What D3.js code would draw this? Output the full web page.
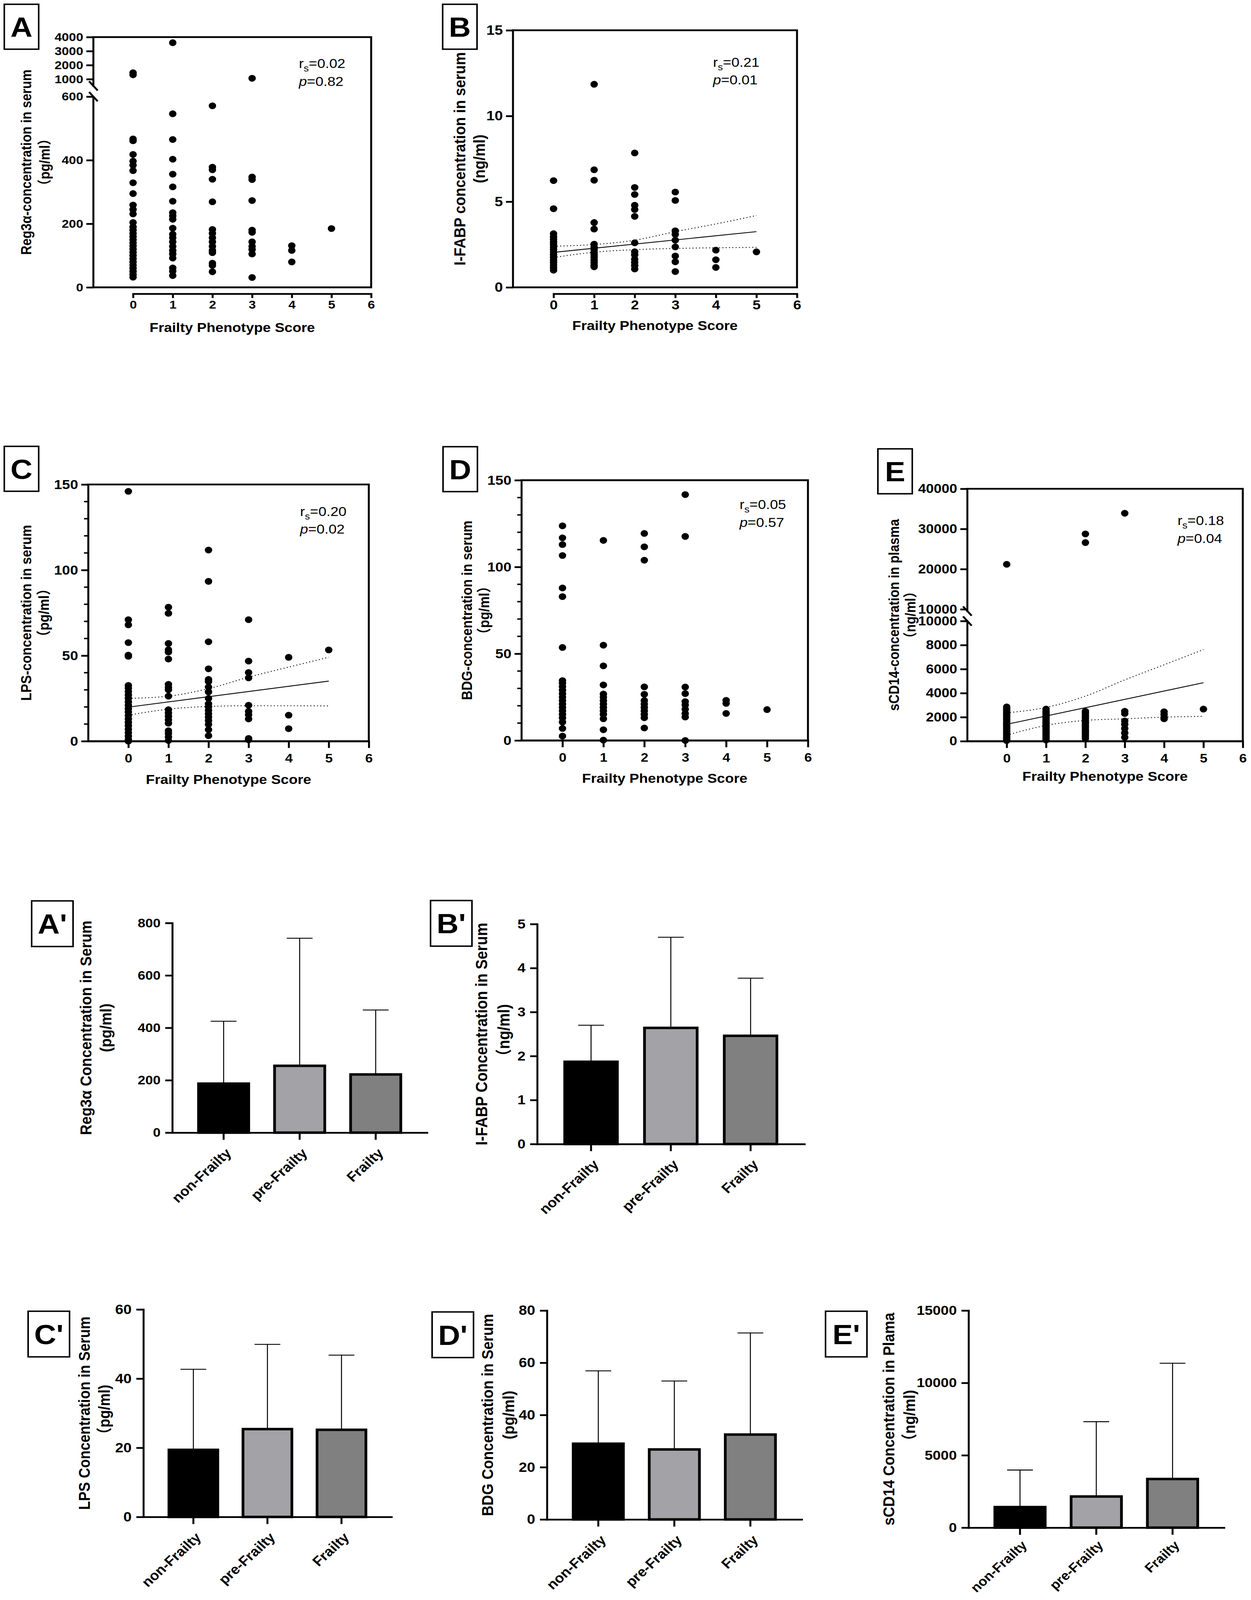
<!DOCTYPE html>
<html>
<head>
<meta charset="utf-8">
<script src="https://cdnjs.cloudflare.com/ajax/libs/d3/7.8.5/d3.min.js"></script>
<style>
  html, body { margin: 0; padding: 0; background: #fff; overflow: hidden; }
  svg { display: block; }
  text { font-family: "Liberation Sans", Arial, "Noto Sans CJK SC", sans-serif; }
</style>
</head>
<body>
<div id="figure"></div>
<script>
// values, one inner array per frailty phenotype score (0..5)
var scores = [0, 1, 2, 3, 4, 5];
var xTicks = [0, 1, 2, 3, 4, 5, 6];

var reg3aByScore = [
  [1460, 1310, 467, 461, 418, 397, 384, 367, 329, 295, 259, 245, 231, 204, 190, 180, 170, 160, 150, 140, 130, 120, 110, 100, 90, 80, 70, 60, 50, 40, 32],
  [3600, 546, 465, 403, 356, 316, 271, 235, 225, 214, 186, 167, 156, 143, 129, 116, 105, 92, 61, 51, 37],
  [571, 378, 370, 340, 269, 182, 170, 156, 143, 129, 116, 109, 76, 69, 49],
  [1060, 347, 339, 273, 180, 173, 143, 129, 119, 105, 31],
  [131, 116, 80],
  [185]
];
var ifabpByScore = [
  [6.23, 4.59, 3.13, 2.95, 2.8, 2.65, 2.5, 2.35, 2.2, 2.05, 1.9, 1.75, 1.6, 1.45, 1.3, 1.15, 1.0],
  [11.85, 6.86, 6.25, 3.78, 3.40, 2.52, 2.35, 2.2, 2.05, 1.9, 1.75, 1.6, 1.45, 1.3, 1.2],
  [7.84, 5.83, 5.42, 4.79, 4.54, 4.14, 2.60, 2.08, 1.9, 1.64, 1.45, 1.27, 1.07],
  [5.56, 5.07, 3.30, 3.09, 2.75, 2.36, 1.83, 1.49, 0.92],
  [2.17, 1.61, 1.16],
  [2.07]
];
var lpsByScore = [
  [146, 71, 68, 57.6, 50.3, 49.6, 32.6, 31, 29, 27, 25, 23, 21, 19, 17, 15, 13, 11, 9, 7, 5, 3, 1, 0],
  [78.3, 74.7, 57.1, 53.4, 52.1, 48, 33.2, 31.5, 30, 26.3, 18.4, 16.5, 14.5, 12.5, 10.5, 6.1, 4.5, 2.5, 0.4],
  [111.7, 93.4, 58.1, 42.3, 36.1, 34.8, 31.6, 28.8, 25, 21.8, 20, 18, 16, 14, 12, 9.8, 6.7, 3.2],
  [71, 46.8, 40.1, 37, 21, 17.4, 15.5, 13, 1.6, 0.8],
  [49, 15.2, 7.3],
  [53.3]
];
var bdgByScore = [
  [123.7, 116.8, 112.9, 106.6, 87.9, 82.9, 53.6, 34.5, 33, 31, 29, 27, 25, 23, 21, 19, 17, 15, 13, 10.6, 6.9, 2.5],
  [115.3, 54.9, 43, 32, 26.8, 25, 23, 21, 19, 17, 15, 12.5, 6.2, 0.2],
  [119.3, 111.6, 103.9, 30.9, 26.6, 23, 21, 19, 17, 15, 13.1, 7.2],
  [141.7, 117.6, 30.8, 27, 22.4, 20.5, 18, 15.5, 13.5, 0],
  [23.1, 21.4, 15.6],
  [17.8]
];
var scd14ByScore = [
  [21200, 2850, 2700, 2550, 2400, 2250, 2100, 1950, 1800, 1650, 1500, 1350, 1200, 1050, 900, 750, 600, 450, 300, 150, 50],
  [2670, 2500, 2350, 2200, 2050, 1900, 1750, 1600, 1450, 1300, 1150, 1000, 850, 700, 550, 400, 250, 100],
  [28760, 26600, 2490, 2350, 2200, 2050, 1900, 1750, 1600, 1450, 1300, 1150, 1000, 850, 700, 550, 400, 230],
  [33900, 2490, 2300, 1680, 1400, 1050, 690, 320],
  [2450, 2220, 1980, 1860],
  [2670]
];

// regression line (value at score 0 and 5) and 95% band read at scores 0..5
var ifabpFit = [2.04, 3.25];
var ifabpUpper = [2.40, 2.50, 2.75, 3.25, 3.70, 4.19];
var ifabpLower = [1.74, 2.05, 2.20, 2.27, 2.31, 2.33];
var lpsFit = [19.9, 35.1];
var lpsUpper = [25, 26.3, 30.7, 37.4, 43.3, 49];
var lpsLower = [15.2, 18.7, 20.3, 20.7, 20.7, 20.6];
var scd14Fit = [1405, 4865];
var scd14Upper = [2360, 2810, 3750, 5100, 6360, 7620];
var scd14Lower = [500, 1310, 1730, 1860, 2000, 2070];

// bar charts: mean and SD per group
var groups = ["non-Frailty", "pre-Frailty", "Frailty"];
var reg3aMean = [187, 255, 222];
var reg3aSD = [238, 487, 246];
var ifabpMean = [1.87, 2.64, 2.46];
var ifabpSD = [0.83, 2.06, 1.31];
var lpsMean = [19.4, 25.4, 25.2];
var lpsSD = [23.3, 24.5, 21.6];
var bdgMean = [29.0, 26.8, 32.5];
var bdgSD = [27.9, 26.2, 38.9];
var scd14Mean = [1420, 2150, 3360];
var scd14SD = [2560, 5170, 8000];

var barFill = ["#000000", "#a3a3a7", "#808080"];

// the figure is laid out on a 3202 x 4488 canvas and fitted to the window
var W = 3202, H = 4488;
var FONT = '"Liberation Sans", Arial, "Noto Sans CJK SC", sans-serif';
var plain = function(d) { return String(d); };

var svg = d3.select("#figure").append("svg")
  .attr("width", window.innerWidth || W)
  .attr("height", window.innerHeight || H)
  .attr("viewBox", "0 0 " + W + " " + H)
  .attr("preserveAspectRatio", "none")
  .style("background", "#fff");

function styleAxis(ax, size) {
  ax.attr("font-family", FONT).attr("font-size", size).attr("font-weight", "bold");
  ax.selectAll("text").attr("fill", "#000");
  ax.selectAll("line").attr("stroke", "#000").attr("stroke-width", 5);
  ax.selectAll("path").attr("stroke", "#000").attr("stroke-width", 5).attr("stroke-linecap", "square");
}

function panelLabel(txt, x, y, w, h) {
  svg.append("rect")
    .attr("x", x).attr("y", y).attr("width", w).attr("height", h)
    .attr("fill", "none").attr("stroke", "#000").attr("stroke-width", 4);
  svg.append("text")
    .attr("x", x + w / 2).attr("y", y + h / 2 + 28)
    .attr("text-anchor", "middle")
    .attr("font-size", 78).attr("font-weight", "bold")
    .text(txt);
}

function yTitle(g, lines, xs, yc, size) {
  lines.forEach(function(t, i) {
    g.append("text")
      .attr("transform", "translate(" + xs[i] + "," + yc + ") rotate(-90)")
      .attr("text-anchor", "middle")
      .attr("dominant-baseline", "central")
      .attr("font-size", size)
      .attr("font-weight", "bold")
      .text(t);
  });
}

function drawScatter(p) {
  var g = svg.append("g");
  var f = p.frame;
  var x = d3.scaleLinear().domain([-1, 6]).range([f.l, f.r]);
  var segScales = p.ySegs.map(function(s) {
    return d3.scaleLinear().domain(s.domain).range(s.range);
  });
  var y = function(v) {
    for (var i = segScales.length - 1; i > 0; i--) {
      if (v >= p.ySegs[i].domain[0]) return segScales[i](v);
    }
    return segScales[0](v);
  };

  // frame (top, right, bottom)
  g.append("path")
    .attr("d", "M" + f.l + "," + f.t + "H" + f.r + "V" + f.b + "H" + f.l)
    .attr("fill", "none").attr("stroke", "#000").attr("stroke-width", 5)
    .attr("stroke-linecap", "square");

  // left axis
  segScales.forEach(function(s, i) {
    var ax = g.append("g")
      .attr("transform", "translate(" + f.l + ",0)")
      .call(d3.axisLeft(s).tickValues(p.ySegs[i].ticks).tickFormat(plain)
        .tickSize(18).tickPadding(8).tickSizeOuter(0));
    ax.select(".domain").remove();
    styleAxis(ax, p.yTickFont);
  });
  if (p.brk) {
    g.append("line").attr("x1", f.l).attr("x2", f.l).attr("y1", f.b).attr("y2", p.brk[0])
      .attr("stroke", "#000").attr("stroke-width", 5);
    g.append("line").attr("x1", f.l).attr("x2", f.l).attr("y1", p.brk[1]).attr("y2", f.t)
      .attr("stroke", "#000").attr("stroke-width", 5).attr("stroke-linecap", "square");
    p.brk.forEach(function(by) {
      g.append("line")
        .attr("x1", f.l - 11).attr("y1", by - 13)
        .attr("x2", f.l + 11).attr("y2", by + 13)
        .attr("stroke", "#000").attr("stroke-width", 5);
    });
  } else {
    g.append("line").attr("x1", f.l).attr("x2", f.l).attr("y1", f.b).attr("y2", f.t)
      .attr("stroke", "#000").attr("stroke-width", 5).attr("stroke-linecap", "square");
  }
  if (p.minor) {
    g.selectAll(null).data(p.minor).enter().append("line")
      .attr("x1", f.l).attr("x2", f.l - 11)
      .attr("y1", function(d) { return y(d); })
      .attr("y2", function(d) { return y(d); })
      .attr("stroke", "#000").attr("stroke-width", 4);
  }

  // x axis
  var xa;
  if (p.offsetAxis) {
    var xs = d3.scaleLinear().domain([0, 6]).range([x(0), x(6)]);
    xa = g.append("g")
      .attr("transform", "translate(0," + p.offsetAxis + ")")
      .call(d3.axisBottom(xs).tickValues(xTicks).tickFormat(plain)
        .tickSize(12).tickPadding(6).tickSizeOuter(0));
  } else {
    xa = g.append("g")
      .attr("transform", "translate(0," + f.b + ")")
      .call(d3.axisBottom(x).tickValues(xTicks).tickFormat(plain)
        .tickSize(19).tickPadding(16).tickSizeOuter(0));
  }
  styleAxis(xa, p.xTickFont);

  // points
  p.values.forEach(function(col, k) {
    g.selectAll(null).data(col).enter().append("circle")
      .attr("cx", x(scores[k]))
      .attr("cy", function(d) { return y(d); })
      .attr("r", 9.5)
      .attr("fill", "#000");
  });

  // regression with confidence band
  if (p.fit) {
    g.append("line")
      .attr("x1", x(0)).attr("y1", y(p.fit[0]))
      .attr("x2", x(5)).attr("y2", y(p.fit[1]))
      .attr("stroke", "#000").attr("stroke-width", 2.4);
    var band = d3.line()
      .x(function(d, i) { return x(scores[i]); })
      .y(function(d) { return y(d); })
      .curve(d3.curveMonotoneX);
    [p.upper, p.lower].forEach(function(ci) {
      g.append("path").attr("d", band(ci))
        .attr("fill", "none").attr("stroke", "#000").attr("stroke-width", 2.4)
        .attr("stroke-dasharray", "2.5,6");
    });
  }

  // statistics
  var st = g.append("text").attr("x", p.stat[0]).attr("y", p.stat[1]).attr("font-size", 37);
  st.append("tspan").text("r");
  st.append("tspan").attr("font-size", 26).attr("dy", 10).text("s");
  st.append("tspan").attr("dy", -10).text("=" + p.rs);
  var pt = g.append("text").attr("x", p.stat[0]).attr("y", p.stat[1] + 50).attr("font-size", 37);
  pt.append("tspan").attr("font-style", "italic").text("p");
  pt.append("tspan").text("=" + p.p);

  // titles
  yTitle(g, p.yTitle, p.yTitleX, (f.t + f.b) / 2, p.titleFont);
  g.append("text")
    .attr("x", (f.l + f.r) / 2).attr("y", p.xTitleY)
    .attr("text-anchor", "middle")
    .attr("font-size", 37).attr("font-weight", "bold")
    .text("Frailty Phenotype Score");

  panelLabel(p.label, p.box[0], p.box[1], 88, 126);
}

function drawBars(p) {
  var g = svg.append("g");
  var y = d3.scaleLinear().domain(p.yDomain).range([p.zero, p.top]);
  var x = d3.scaleBand().domain(groups).range([p.axisX, p.right])
    .paddingInner(0.34).paddingOuter(0.345);

  g.selectAll(null).data(p.mean).enter().append("rect")
    .attr("x", function(d, i) { return x(groups[i]); })
    .attr("width", x.bandwidth())
    .attr("y", function(d) { return y(d); })
    .attr("height", function(d) { return p.zero - y(d); })
    .attr("fill", function(d, i) { return barFill[i]; })
    .attr("stroke", "#000").attr("stroke-width", 7);

  // upper SD bars
  var cx = function(i) { return x(groups[i]) + x.bandwidth() / 2; };
  p.mean.forEach(function(m, i) {
    var top = y(m + p.sd[i]);
    g.append("line").attr("x1", cx(i)).attr("x2", cx(i)).attr("y1", y(m)).attr("y2", top)
      .attr("stroke", "#000").attr("stroke-width", 2.5);
    g.append("line").attr("x1", cx(i) - 33).attr("x2", cx(i) + 33).attr("y1", top).attr("y2", top)
      .attr("stroke", "#000").attr("stroke-width", 2.5);
  });

  var ya = g.append("g")
    .attr("transform", "translate(" + p.axisX + ",0)")
    .call(d3.axisLeft(y).tickValues(p.ticks).tickFormat(plain)
      .tickSize(18).tickPadding(12).tickSizeOuter(0));
  styleAxis(ya, p.yTickFont);

  var xa = g.append("g")
    .attr("transform", "translate(0," + p.zero + ")")
    .call(d3.axisBottom(x).tickSize(20).tickSizeOuter(0));
  styleAxis(xa, p.xTickFont || 38);
  xa.selectAll("text")
    .attr("x", 0).attr("y", 0).attr("dy", 0)
    .attr("text-anchor", "end")
    .attr("transform", "translate(" + (p.labelShift || [22, 60]).join(",") + ") rotate(-45)");

  yTitle(g, p.yTitle, p.yTitleX, (p.top + p.zero) / 2, p.titleFont);
  panelLabel(p.label, p.box[0], p.box[1], 106, 128);
}

var scatterPanels = [
  { label: "A", box: [11, 12], values: reg3aByScore,
    frame: { l: 239, r: 950, t: 104, b: 806 }, offsetAxis: 824,
    ySegs: [{ domain: [0, 600], range: [806, 271], ticks: [0, 200, 400, 600] },
            { domain: [1000, 4000], range: [222, 104], ticks: [1000, 2000, 3000, 4000] }],
    brk: [271, 241], yTickFont: 33, xTickFont: 33, titleFont: 36,
    yTitle: ["Reg3α-concentration in serum", "（pg/ml）"], yTitleX: [67, 114], xTitleY: 931,
    stat: [765, 191], rs: "0.02", p: "0.82" },
  { label: "B", box: [1133, 12], values: ifabpByScore,
    frame: { l: 1313, r: 2040, t: 85, b: 806 }, offsetAxis: 824,
    ySegs: [{ domain: [0, 15], range: [806, 85], ticks: [0, 5, 10, 15] }],
    yTickFont: 38, xTickFont: 37, titleFont: 41,
    yTitle: ["I-FABP concentration in serum", "(ng/ml)"], yTitleX: [1176, 1226], xTitleY: 926,
    fit: ifabpFit, upper: ifabpUpper, lower: ifabpLower,
    stat: [1825, 187], rs: "0.21", p: "0.01" },
  { label: "C", box: [11, 1252], values: lpsByScore,
    frame: { l: 226, r: 944, t: 1359, b: 2079 },
    ySegs: [{ domain: [0, 150], range: [2079, 1359], ticks: [0, 50, 100, 150] }],
    minor: [10, 20, 30, 40, 60, 70, 80, 90, 110, 120, 130, 140],
    yTickFont: 37, xTickFont: 35, titleFont: 37,
    yTitle: ["LPS-concentration in serum", "（pg/ml）"], yTitleX: [67, 112], xTitleY: 2199,
    fit: lpsFit, upper: lpsUpper, lower: lpsLower,
    stat: [768, 1447], rs: "0.20", p: "0.02" },
  { label: "D", box: [1134, 1253], values: bdgByScore,
    frame: { l: 1335, r: 2068, t: 1347, b: 2077 },
    ySegs: [{ domain: [0, 150], range: [2077, 1347], ticks: [0, 50, 100, 150] }],
    minor: [10, 20, 30, 40, 60, 70, 80, 90, 110, 120, 130, 140],
    yTickFont: 37, xTickFont: 35, titleFont: 37,
    yTitle: ["BDG-concentration in serum", "（pg/ml）"], yTitleX: [1195, 1239], xTitleY: 2196,
    stat: [1893, 1428], rs: "0.05", p: "0.57" },
  { label: "E", box: [2247, 1259], values: scd14ByScore,
    frame: { l: 2476, r: 3181, t: 1371, b: 2079 },
    ySegs: [{ domain: [0, 10000], range: [2079, 1742], ticks: [0, 2000, 4000, 6000, 8000, 10000] },
            { domain: [10000, 40000], range: [1709, 1371], ticks: [10000, 20000, 30000, 40000] }],
    brk: [1742, 1714], yTickFont: 36, xTickFont: 35, titleFont: 36,
    yTitle: ["sCD14-concentration in plasma", "（ng/ml）"], yTitleX: [2288, 2330], xTitleY: 2190,
    fit: scd14Fit, upper: scd14Upper, lower: scd14Lower,
    stat: [3014, 1473], rs: "0.18", p: "0.04" }
];

var barPanels = [
  { label: "A'", box: [81, 2527], mean: reg3aMean, sd: reg3aSD,
    axisX: 441, right: 1093, top: 2589, zero: 3177, yDomain: [0, 800], ticks: [0, 200, 400, 600, 800],
    yTickFont: 35, titleFont: 41,
    yTitle: ["Reg3α Concentration in Serum", "(pg/ml)"], yTitleX: [219, 270] },
  { label: "B'", box: [1102, 2526], mean: ifabpMean, sd: ifabpSD,
    axisX: 1375, right: 2059, top: 2592, zero: 3209, yDomain: [0, 5], ticks: [0, 1, 2, 3, 4, 5],
    yTickFont: 37, titleFont: 42,
    yTitle: ["I-FABP Concentration in Serum", "（ng/ml)"], yTitleX: [1233, 1290] },
  { label: "C'", box: [72, 3678], mean: lpsMean, sd: lpsSD,
    axisX: 367, right: 1002, top: 3673, zero: 4255, yDomain: [0, 60], ticks: [0, 20, 40, 60],
    yTickFont: 38, titleFont: 40,
    yTitle: ["LPS Concentration in Serum", "（pg/ml)"], yTitleX: [216, 267] },
  { label: "D'", box: [1106, 3680], mean: bdgMean, sd: bdgSD,
    axisX: 1400, right: 2052, top: 3676, zero: 4262, yDomain: [0, 80], ticks: [0, 20, 40, 60, 80],
    yTickFont: 38, titleFont: 41,
    yTitle: ["BDG Concentration in Serum", "(pg/ml)"], yTitleX: [1247, 1301] },
  { label: "E'", box: [2113, 3678], mean: scd14Mean, sd: scd14SD,
    axisX: 2479, right: 3133, top: 3676, zero: 4285, yDomain: [0, 15000], ticks: [0, 5000, 10000, 15000],
    yTickFont: 37, titleFont: 41, xTickFont: 36, labelShift: [20, 52],
    yTitle: ["sCD14 Concentration in Plama", "（ng/ml)"], yTitleX: [2274, 2327] }
];

scatterPanels.forEach(drawScatter);
barPanels.forEach(drawBars);
</script>
</body>
</html>
